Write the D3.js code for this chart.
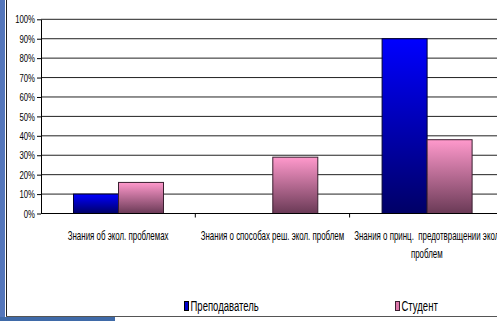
<!DOCTYPE html>
<html><head><meta charset="utf-8">
<script src="https://cdn.jsdelivr.net/npm/d3@7"></script>
<style>html,body{margin:0;padding:0;background:#fff;overflow:hidden} text{white-space:pre}</style>
</head><body>
<svg id="c" width="497" height="321"></svg>
<script>
const categories = [["Знания об экол. проблемах"], ["Знания о способах реш. экол. проблем"], ["Знания о принц.  предотвращении экол", "проблем"]];
const seriesNames = ["Преподаватель", "Студент"];
const teacher = [10, 0, 90];
const student = [16, 29, 38];
const yTicks = [0,10,20,30,40,50,60,70,80,90,100];

(function(){
const svg = d3.select("#c");
const font = "'Liberation Sans',Arial,sans-serif";
const defs = svg.append("defs");
const gb = defs.append("linearGradient").attr("id","gb").attr("x1",0).attr("y1",0).attr("x2",0).attr("y2",1);
gb.append("stop").attr("offset","0%").attr("stop-color","#0000ff");
gb.append("stop").attr("offset","100%").attr("stop-color","#000066");
const gp = defs.append("linearGradient").attr("id","gp").attr("x1",0).attr("y1",0).attr("x2",0).attr("y2",1);
gp.append("stop").attr("offset","0%").attr("stop-color","#ff99cc");
gp.append("stop").attr("offset","100%").attr("stop-color","#6a3a56");

// frame decorations
svg.append("rect").attr("x",0).attr("y",0).attr("width",5).attr("height",321).attr("fill","#5577bb");
svg.append("rect").attr("x",0).attr("y",317).attr("width",115).attr("height",4).attr("fill","#3f6aa8");
svg.append("line").attr("x1",6.5).attr("x2",6.5).attr("y1",0).attr("y2",316.5).attr("stroke","#222");
svg.append("line").attr("x1",6).attr("x2",497).attr("y1",316.5).attr("y2",316.5).attr("stroke","#555");

const mLeft = 41, mTop = 19.3, mBottom = 213.5;
const groupW = 154.3;
const y = d3.scaleLinear().domain([0,100]).range([mBottom, mTop]);
const x0 = d3.scaleBand().domain(d3.range(categories.length)).range([mLeft, mLeft + groupW*categories.length]).padding(0);
const x1 = d3.scaleBand().domain([0,1]).range([32.5, 32.5+90]).padding(0);

// gridlines
svg.append("g").selectAll("line").data(yTicks.filter(t=>t>0)).join("line")
  .attr("x1",mLeft).attr("x2",497).attr("y1",d=>y(d)).attr("y2",d=>y(d))
  .attr("stroke","#222").attr("stroke-width",1);

// bars
const data = categories.map((c,i)=>[teacher[i], student[i]]);
const g = svg.append("g").selectAll("g").data(data).join("g").attr("transform",(d,i)=>`translate(${x0(i)},0)`);
g.selectAll("rect").data(d=>d.map((v,j)=>({v,j})).filter(e=>e.v>0)).join("rect")
  .attr("x",d=>x1(d.j)).attr("width",x1.bandwidth())
  .attr("y",d=>y(d.v)).attr("height",d=>y(0)-y(d.v))
  .attr("fill",d=>d.j===0?"url(#gb)":"url(#gp)")
  .attr("stroke",d=>d.j===0?"#000033":"#3a1f30").attr("stroke-width",1);

// y axis
const ya = d3.axisLeft(y).tickValues(yTicks).tickFormat(d=>d+"%").tickSize(4).tickSizeOuter(0).tickPadding(0);
const yg = svg.append("g").attr("transform",`translate(${mLeft},0)`).call(ya);
yg.select(".domain").attr("stroke","#000");
yg.selectAll("line").attr("stroke","#000");
yg.selectAll("text").attr("font-family",font).attr("font-size",10.5).attr("fill","#000")
  .attr("x",null).attr("dy","0.35em").attr("transform",`translate(-6,0) scale(0.74,1)`);

// x axis
svg.append("line").attr("x1",mLeft).attr("x2",497).attr("y1",mBottom).attr("y2",mBottom).attr("stroke","#000");
svg.append("g").selectAll("line").data(d3.range(1,categories.length)).join("line")
  .attr("x1",d=>x0(d)).attr("x2",d=>x0(d)).attr("y1",mBottom).attr("y2",mBottom+4).attr("stroke","#000");

// category labels
svg.append("g").selectAll("text").data(categories).join("text")
  .attr("transform",(d,i)=>`translate(${x0(i)+groupW/2},240) scale(0.66,1)`)
  .attr("text-anchor","middle").attr("font-family",font).attr("font-size",12).attr("fill","#000")
  .each(function(d){
    const t = d3.select(this);
    d.forEach((line,k)=>t.append("tspan").attr("x",0).attr("dy",k===0?0:18.5).text(line));
  });

// legend
const legend = [{name:seriesNames[0], x:184, fill:"#0000cc", stroke:"#000"},{name:seriesNames[1], x:395, fill:"#dd77aa", stroke:"#3a1f30"}];
const lg = svg.append("g").selectAll("g").data(legend).join("g");
lg.append("rect").attr("x",d=>d.x+0.5).attr("y",301.5).attr("width",4).attr("height",9).attr("fill",d=>d.fill).attr("stroke",d=>d.stroke);
lg.append("text").attr("transform",d=>`translate(${d.x+6.5},311) scale(0.68,1)`)
  .attr("font-family",font).attr("font-size",14).attr("fill","#000").text(d=>d.name);
})();
</script>
</body></html>
